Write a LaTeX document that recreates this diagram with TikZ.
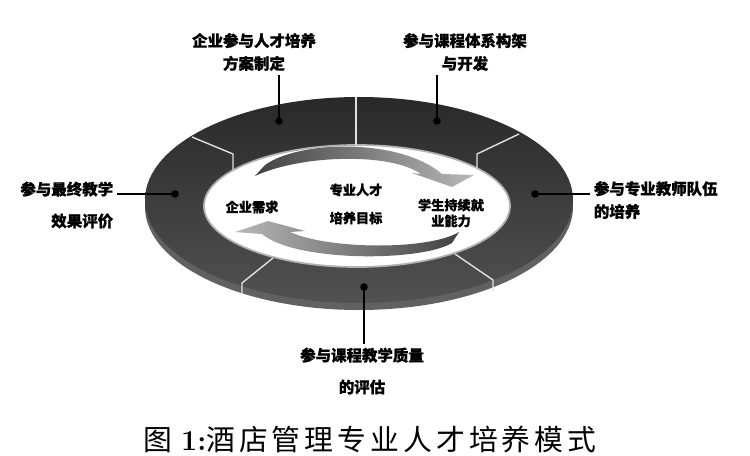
\documentclass[tikz,border=0pt]{standalone}
\usepackage{fontspec}
\newfontfamily\cjk[BoldFeatures={FakeBold=0.8}]{Noto Sans CJK SC}
\newfontfamily\capcjk[LetterSpace=14]{Noto Sans CJK SC}

\begin{document}
\begin{tikzpicture}[x=0.02cm,y=-0.02cm,
	lbl/.style={font=\cjk\bfseries\fontsize{8.8}{13}\selectfont, inner sep=2pt},
	lblwide/.style={font=\cjk\bfseries\fontsize{8.8}{18.1}\selectfont, inner sep=2pt},
	intext/.style={font=\cjk\bfseries\fontsize{7.5}{9}\selectfont, inner sep=1pt},
	leader/.style={line width=0.75pt},
	divider/.style={draw=black!12, line width=0.8pt}]
\useasboundingbox (0,0) rectangle (750,456);
\fill[white] (0,0) rectangle (750,456);
% ring: side, top surface, hole
\fill[black!62] (359,207) ellipse [x radius=214, y radius=103];
\shade[top color=black!84, bottom color=black!68] (359,200) ellipse [x radius=214, y radius=103];
\filldraw[fill=white, draw=black!30, line width=1pt] (357,206) ellipse [x radius=153, y radius=61];
% segment borders
\draw[divider] (356,97) -- (356,145);
\draw[divider] (192,137) -- (233,154) -- (233,170);
\draw[divider] (519,134) -- (477,154) -- (477,168);
\draw[divider] (273,258) -- (242,283) -- (242,295);
\draw[divider] (455,254) -- (493,280) -- (493,291);
% the two turning arrows
\shade[left color=black!74, right color=black!28] (265,165) .. controls (300,140) and (400,138) .. (442,174)
	-- (474,175) -- (452,187) -- (412,173) -- (421,174) .. controls (390,152) and (300,155) .. (255,176) -- cycle;
\shade[left color=black!28, right color=black!74] (459,232) .. controls (430,250) and (330,250) .. (290,232)
	-- (305,231) -- (268,221) -- (235,232) -- (262,234) .. controls (295,262) and (420,262) .. (452,243) -- cycle;
% inner texts
\path (252,207) node[intext] (ent) {企业需求}
	(356,204) node[intext, align=center, font=\cjk\bfseries\fontsize{7.5}{16}\selectfont] (goal) {专业人才\\培养目标}
	(451,213) node[intext, align=center] (stu) {学生持续就\\业能力};
% points on the ring
\coordinate (dTL) at (279,121);
\coordinate (dTR) at (437,121);
\coordinate (dR) at (535,194);
\coordinate (dL) at (175,194);
\coordinate (dB) at (364,287);
\foreach \d in {dTL,dTR,dR,dL,dB}
	\fill (\d) circle [radius=3.8];
% outer labels
\path (254,52) node[lbl, align=center] (lTL) {企业参与人才培养\\方案制定}
	(465,52) node[lbl, align=center] (lTR) {参与课程体系构架\\与开发}
	(590,200) node[lbl, align=left, anchor=west] (lR) {参与专业教师队伍\\的培养}
	(117,205) node[lblwide, align=right, anchor=east] (lL) {参与最终教学\\效果评价}
	(362,371) node[lblwide, align=center] (lB) {参与课程教学质量\\的评估};
\draw[leader] (dTL) -- (dTL |- lTL.south);
\draw[leader] (dTR) -- (dTR |- lTR.south);
\draw[leader] (dR) -- (dR -| lR.west);
\draw[leader] (dL) -- (dL -| lL.east);
\draw[leader] (dB) -- (dB |- lB.north);
% caption
\node[font=\fontsize{16.4}{18}\selectfont, inner sep=0pt] (cap) at (370,440) {{\capcjk 图} {\bfseries 1:}{\capcjk 酒店管理专业人才培养模式}};
\end{tikzpicture}
\end{document}
